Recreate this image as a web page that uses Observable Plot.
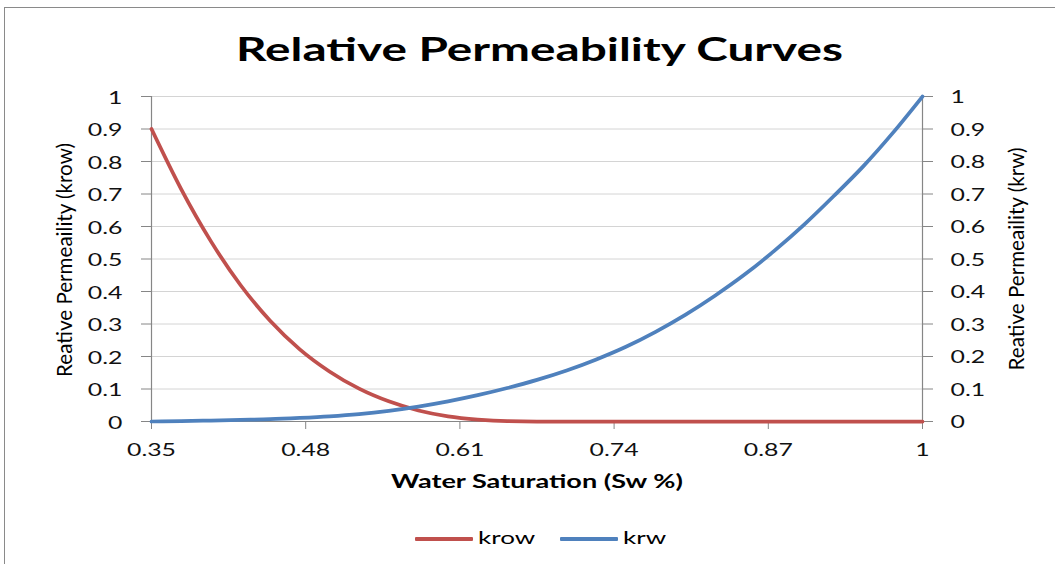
<!DOCTYPE html>
<html>
<head>
<meta charset="utf-8">
<script src="https://cdn.jsdelivr.net/npm/d3@7"></script>
<script src="https://cdn.jsdelivr.net/npm/@observablehq/plot@0.6"></script>
<style>
  html, body { margin: 0; padding: 0; background: #fff; }
  #fig { position: relative; width: 1055px; height: 564px; overflow: hidden; background: #fff;
         font-family: Lato, "Open Sans", sans-serif; color: #000; }
  #frame { position: absolute; left: 4px; top: 7px; width: 1100px; height: 620px;
           border: 1.5px solid #8a8a8a; box-sizing: border-box; }
  #title { position: absolute; top: 32px; font-size: 33px; line-height: 33px; font-weight: 700;
           white-space: nowrap; transform-origin: 0 0; }
  #chart { position: absolute; left: 0; top: 80px; }
  .swatch { position: absolute; height: 4px; border-radius: 1px; }
  .legend-label { position: absolute; font-size: 17.6px; line-height: 18px; white-space: nowrap; transform-origin: 0 0; }
</style>
</head>
<body>
<div id="fig">
  <div id="frame"></div>
  <div id="title"></div>
  <div id="chart"></div>
  <div id="legend"></div>
</div>
<script>
// Water saturation samples and the two relative permeability curves
const sw   = [0.35, 0.375, 0.40, 0.425, 0.45, 0.475, 0.50, 0.525, 0.55, 0.575, 0.60, 0.625, 0.65,
              0.675, 0.70, 0.725, 0.75, 0.775, 0.80, 0.825, 0.85, 0.875, 0.90, 0.925, 0.95, 0.975, 1.0];
const krow = [0.90, 0.715, 0.555, 0.42, 0.31, 0.222, 0.154, 0.101, 0.062, 0.034, 0.016, 0.006, 0.001,
              0, 0, 0, 0, 0, 0, 0, 0, 0, 0, 0, 0, 0, 0];
const krw  = [0, 0.001, 0.003, 0.005, 0.007, 0.011, 0.016, 0.023, 0.033, 0.046, 0.062, 0.081, 0.103,
              0.128, 0.157, 0.191, 0.230, 0.276, 0.328, 0.387, 0.452, 0.525, 0.605, 0.693, 0.785, 0.888, 1.0];

const seriesNames  = ["krow", "krw"];
const seriesColors = ["#C0504D", "#4F81BD"];

const xTicks      = [0.35, 0.48, 0.61, 0.74, 0.87, 1];
const xTickLabels = ["0.35", "0.48", "0.61", "0.74", "0.87", "1"];
const yTicks      = [0, 0.1, 0.2, 0.3, 0.4, 0.5, 0.6, 0.7, 0.8, 0.9, 1];
const yTickLabels = ["0", "0.1", "0.2", "0.3", "0.4", "0.5", "0.6", "0.7", "0.8", "0.9", "1"];

const titleText   = "Relative Permeability Curves";
const xTitle      = "Water Saturation (Sw %)";
const yLeftTitle  = "Reative Permeaility (krow)";
const yRightTitle = "Reative Permeaility (krw)";

// Long-format table for the line mark
const rows = [];
sw.forEach((s, i) => {
  rows.push({sw: s, k: krow[i], series: seriesNames[0]});
  rows.push({sw: s, k: krw[i], series: seriesNames[1]});
});

const fmtX = d => xTickLabels[xTicks.indexOf(d)];
const fmtY = d => yTickLabels[yTicks.indexOf(d)];
const axisGray = "#868686";

const chart = Plot.plot({
  width: 1055,
  height: 420,
  marginLeft: 151,
  marginRight: 133,
  marginTop: 16,
  marginBottom: 79,
  style: {fontFamily: "Lato, 'Open Sans', sans-serif", fontSize: "17px", color: "#000", background: "transparent"},
  x: {domain: [0.35, 1]},
  y: {domain: [0, 1]},
  color: {domain: seriesNames, range: seriesColors},
  marks: [
    Plot.gridY(yTicks, {stroke: "#d4d4d4", strokeOpacity: 1}),
    // tick marks (left / right / bottom)
    Plot.axisY(yTicks, {anchor: "left", tickSize: 10, tickPadding: 19, stroke: axisGray, fill: "none", label: null}),
    Plot.axisY(yTicks, {anchor: "right", tickSize: 10, tickPadding: 18, stroke: axisGray, fill: "none", label: null}),
    // tick labels
    Plot.axisY(yTicks, {anchor: "left", tickSize: 10, tickPadding: 19, stroke: "none", fill: "#111", tickFormat: fmtY, dy: 2, label: null}),
    Plot.axisY(yTicks, {anchor: "right", tickSize: 10, tickPadding: 18, stroke: "none", fill: "#111", tickFormat: fmtY, dy: 1.5, label: null}),
    Plot.axisX(xTicks, {anchor: "bottom", tickSize: 8, tickPadding: 14, stroke: axisGray, fill: "#111", tickFormat: fmtX, label: null}),
    // axis lines
    Plot.ruleX([0.35, 1], {stroke: axisGray, strokeWidth: 1.2}),
    Plot.ruleY([0], {stroke: axisGray, strokeWidth: 1.2}),
    // axis titles
    Plot.text([yLeftTitle], {text: d => d, frameAnchor: "left", textAnchor: "middle", lineAnchor: "middle",
      rotate: -90, dx: -86, dy: 1, fontSize: 21}),
    Plot.text([yRightTitle], {text: d => d, frameAnchor: "right", textAnchor: "middle", lineAnchor: "middle",
      rotate: -90, dx: 95, dy: 0, fontSize: 21}),
    Plot.text([xTitle], {text: d => d, frameAnchor: "bottom", textAnchor: "middle", lineAnchor: "middle",
      dy: 60.4, fontSize: 18.5, fontWeight: "bold"}),
    // curves
    Plot.line(rows, {x: "sw", y: "k", stroke: "series", curve: "monotone-x", strokeWidth: 3.75,
      strokeLinecap: "round", strokeLinejoin: "round"})
  ]
});
document.getElementById("chart").appendChild(chart);

// Wide, stretched glyphs for the tick labels
const stretch = 1.46;
chart.querySelectorAll('g[aria-label="x-axis tick label"] text, g[aria-label="y-axis tick label"] text').forEach(t => {
  const w = t.getComputedTextLength();
  t.setAttribute("textLength", (w * stretch).toFixed(1));
  t.setAttribute("lengthAdjust", "spacingAndGlyphs");
});
// Axis titles: scale each along its reading direction to a set length
const titleLengths = new Map([[yLeftTitle, 234], [yRightTitle, 223], [xTitle, 292]]);
chart.querySelectorAll("text").forEach(t => {
  const len = titleLengths.get(t.textContent);
  if (!len) return;
  const w = t.getComputedTextLength();
  if (!w) return;
  const tr = t.getAttribute("transform") || "";
  t.setAttribute("transform", `${tr} scale(${(len / w).toFixed(4)},1)`);
});

// Title, stretched to its full width and centred over the chart
const title = document.getElementById("title");
title.textContent = titleText;
const titleWidth = 607, titleCenter = 539.5;
const tw = title.getBoundingClientRect().width;
title.style.left = (titleCenter - titleWidth / 2) + "px";
title.style.transform = `scaleX(${titleWidth / tw})`;

// Legend below the chart
const legend = document.getElementById("legend");
let lx = 415;
const legendTop = 539;
const legendStretch = 1.48;
seriesNames.forEach((name, i) => {
  const swatch = document.createElement("div");
  swatch.className = "swatch";
  swatch.style.left = lx + "px";
  swatch.style.top = (legendTop - 2) + "px";
  swatch.style.width = "58px";
  swatch.style.background = seriesColors[i];
  legend.appendChild(swatch);
  lx += 58 + 5;
  const lab = document.createElement("div");
  lab.className = "legend-label";
  lab.textContent = name;
  lab.style.left = lx + "px";
  lab.style.top = (legendTop - 10) + "px";
  legend.appendChild(lab);
  const w = lab.getBoundingClientRect().width;
  lab.style.transform = `scaleX(${legendStretch})`;
  lx += w * legendStretch + 25;
});
</script>
</body>
</html>
